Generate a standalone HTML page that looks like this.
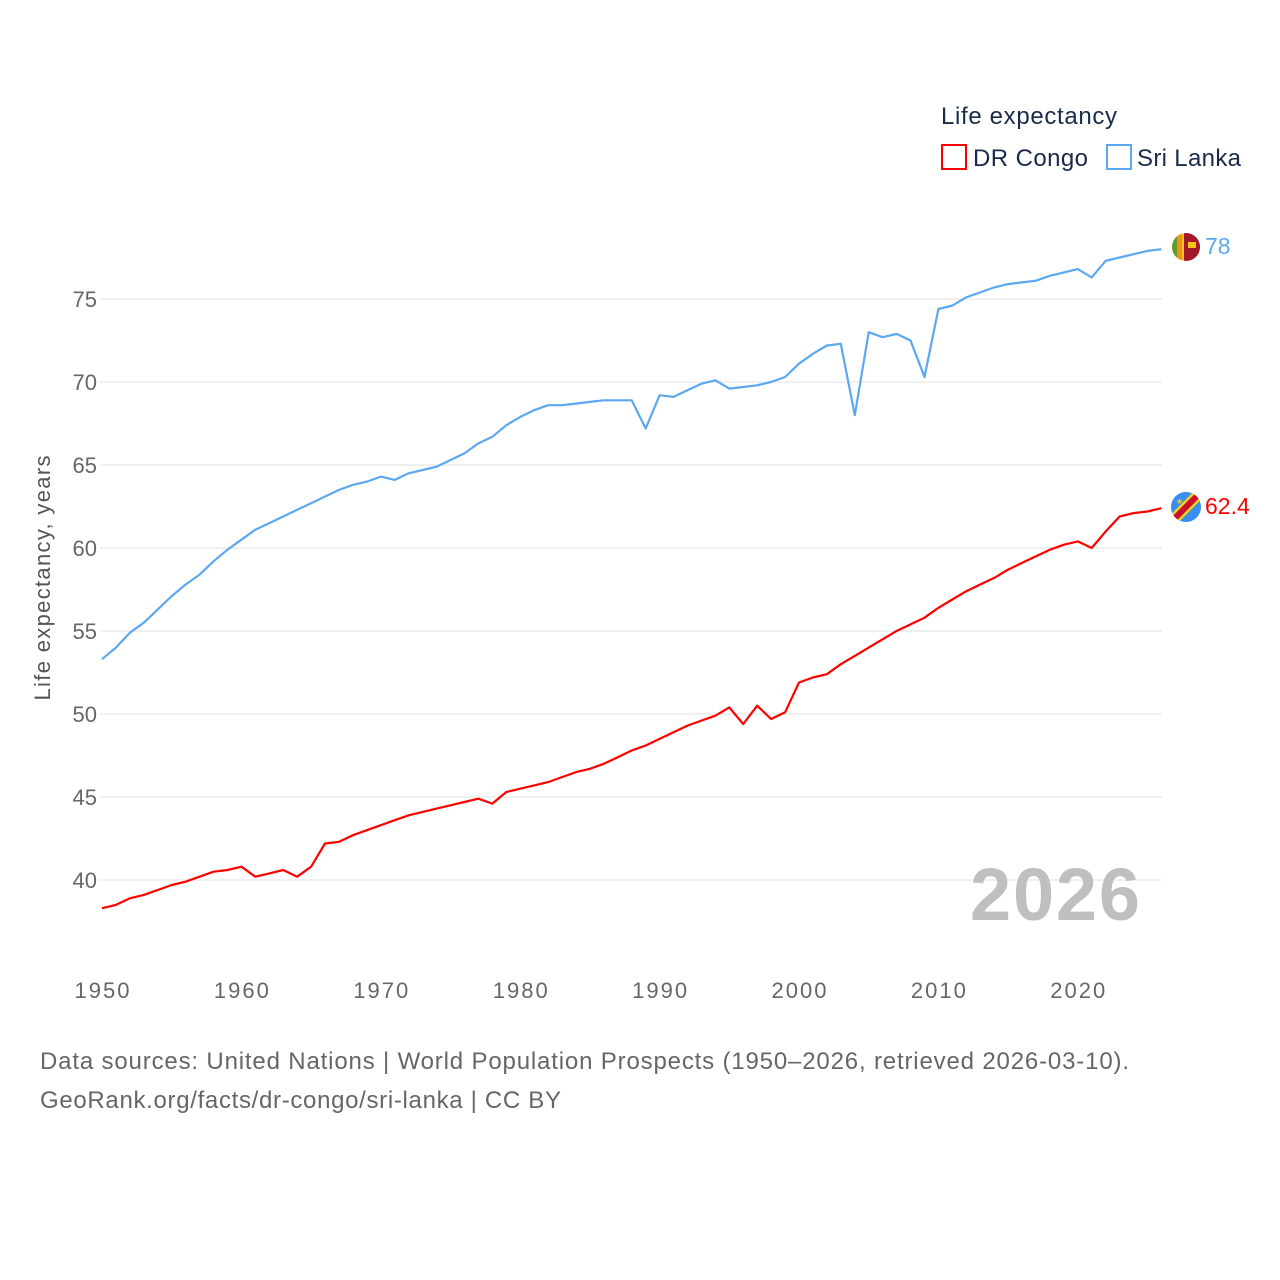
<!DOCTYPE html>
<html><head><meta charset="utf-8"><style>
html,body{margin:0;padding:0;background:#fff;}
svg{display:block;font-family:"Liberation Sans",sans-serif;}
</style></head><body>
<svg id="chart" width="1280" height="1280" viewBox="0 0 1280 1280">
<g>
<text x="941" y="124" font-size="24" fill="#1a2a4a" textLength="176">Life expectancy</text>
<g>
<rect x="942" y="145" width="24" height="24" fill="none" stroke="#ff0000" stroke-width="2"/>
<text x="973" y="166" font-size="24" fill="#1a2a4a" textLength="115">DR Congo</text></g>
<g>
<rect x="1107" y="145" width="24" height="24" fill="none" stroke="#5ca8f0" stroke-width="2"/>
<text x="1137" y="166" font-size="24" fill="#1a2a4a" textLength="104">Sri Lanka</text></g>
</g>
<g id="grid"></g>
<g id="yticks"></g>
<g id="xticks"></g>
<text transform="translate(50,578) rotate(-90)" text-anchor="middle" font-size="22" fill="#555" textLength="245">Life expectancy, years</text>
<text x="1140" y="920" text-anchor="end" font-size="74" font-weight="bold" fill="#bfbfbf" textLength="170">2026</text>
<g id="series"></g>
<g>
<clipPath id="c1"><circle cx="1186" cy="247" r="14"/></clipPath>
<g clip-path="url(#c1)"><rect x="1170" y="231" width="32" height="32" fill="#f5c518"/><rect x="1172" y="231" width="5" height="32" fill="#5e9c2e"/><rect x="1177" y="231" width="5" height="32" fill="#f0921a"/><rect x="1184" y="233" width="17" height="28" fill="#a3172b"/><rect x="1188" y="242" width="8" height="6" fill="#f5c518"/></g></g>
<g>
<clipPath id="c2"><circle cx="1186" cy="507" r="15"/></clipPath>
<g clip-path="url(#c2)"><rect x="1170" y="491" width="32" height="32" fill="#3a8ef0"/><line x1="1168" y1="525" x2="1204" y2="489" stroke="#f5d11a" stroke-width="11"/><line x1="1168" y1="525" x2="1204" y2="489" stroke="#c8102e" stroke-width="6"/><text x="1176" y="504" font-size="8" fill="#f5d11a">★</text></g></g>
<text x="1205" y="254" font-size="23" fill="#5ca8f0">78</text>
<text x="1205" y="514" font-size="23" fill="#ff0000">62.4</text>
<text x="40" y="1069" font-size="24" fill="#666" textLength="1089">Data sources: United Nations | World Population Prospects (1950–2026, retrieved 2026-03-10).</text>
<text x="40" y="1108" font-size="24" fill="#666" textLength="521">GeoRank.org/facts/dr-congo/sri-lanka | CC BY</text>
</svg>
<script>
const startYear = 1950;
const sriLanka = [53.3,54.0,54.9,55.5,56.3,57.1,57.8,58.4,59.2,59.9,60.5,61.1,61.5,61.9,62.3,62.7,63.1,63.5,63.8,64.0,64.3,64.1,64.5,64.7,64.9,65.3,65.7,66.3,66.7,67.4,67.9,68.3,68.6,68.6,68.7,68.8,68.9,68.9,68.9,67.2,69.2,69.1,69.5,69.9,70.1,69.6,69.7,69.8,70.0,70.3,71.1,71.7,72.2,72.3,68.0,73.0,72.7,72.9,72.5,70.3,74.4,74.6,75.1,75.4,75.7,75.9,76.0,76.1,76.4,76.6,76.8,76.3,77.3,77.5,77.7,77.9,78.0];
const drCongo = [38.3,38.5,38.9,39.1,39.4,39.7,39.9,40.2,40.5,40.6,40.8,40.2,40.4,40.6,40.2,40.8,42.2,42.3,42.7,43.0,43.3,43.6,43.9,44.1,44.3,44.5,44.7,44.9,44.6,45.3,45.5,45.7,45.9,46.2,46.5,46.7,47.0,47.4,47.8,48.1,48.5,48.9,49.3,49.6,49.9,50.4,49.4,50.5,49.7,50.1,51.9,52.2,52.4,53.0,53.5,54.0,54.5,55.0,55.4,55.8,56.4,56.9,57.4,57.8,58.2,58.7,59.1,59.5,59.9,60.2,60.4,60.0,61.0,61.9,62.1,62.2,62.4];
const yTicks = [40,45,50,55,60,65,70,75];
const xTicks = [1950,1960,1970,1980,1990,2000,2010,2020];
const NS = "http://www.w3.org/2000/svg";
function xScale(yr){ return 102 + (yr-1950)*13.94; }
function yScale(v){ return 880 - (v-40)*16.6; }
function mk(tag, attrs, parent){ const e=document.createElementNS(NS,tag); for(const k in attrs) e.setAttribute(k,attrs[k]); parent.appendChild(e); return e; }
const grid=document.getElementById('grid'), yt=document.getElementById('yticks'), xt=document.getElementById('xticks'), ser=document.getElementById('series');
yTicks.forEach(v=>{
  const l=mk('line',{x1:100,x2:1162,y1:yScale(v),y2:yScale(v),stroke:'#ebebeb','stroke-width':1.5},grid);
  
  
  const t=mk('text',{x:97,y:yScale(v)+8,'text-anchor':'end','font-size':22,fill:'#666'},yt);
  t.textContent=v;
  
  
});
xTicks.forEach(y=>{
  const t=mk('text',{x:xScale(y),y:998,'text-anchor':'middle','font-size':22,fill:'#666',textLength:55},xt);
  t.textContent=y;
  
  
});
function drawLine(vals,color,name){
  const d=vals.map((v,i)=>(i?'L':'M')+xScale(startYear+i).toFixed(1)+','+yScale(v).toFixed(1)).join(' ');
  const p=mk('path',{d:d,fill:'none',stroke:color,'stroke-width':2.2,'stroke-linejoin':'round'},ser);
  
  
}
drawLine(sriLanka,'#5ca8f0','sri-lanka-line');
drawLine(drCongo,'#ff0000','dr-congo-line');
</script>
</body></html>
